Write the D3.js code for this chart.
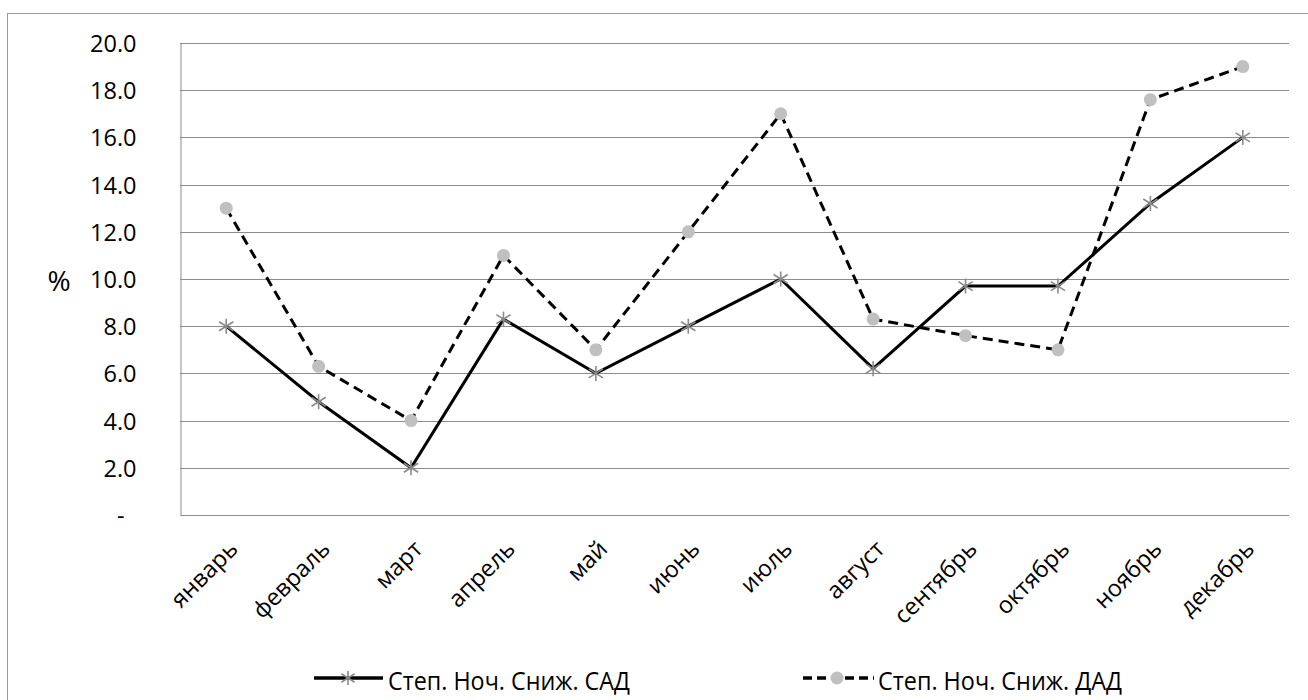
<!DOCTYPE html>
<html>
<head>
<meta charset="utf-8">
<script src="https://cdn.jsdelivr.net/npm/d3@7"></script>
<style>
  html, body { margin: 0; padding: 0; background: #fff; }
  svg { display: block; font-family: "Open Sans", "Noto Sans", sans-serif; }
</style>
</head>
<body>
<svg id="chart" width="1308" height="700"></svg>
<script>
// Monthly night-time dip (%) for systolic and diastolic pressure
const months = ["январь", "февраль", "март", "апрель", "май", "июнь",
                "июль", "август", "сентябрь", "октябрь", "ноябрь", "декабрь"];
const sadValues = [8.0, 4.8, 2.0, 8.3, 6.0, 8.0, 10.0, 6.2, 9.7, 9.7, 13.2, 16.0];
const dadValues = [13.0, 6.3, 4.0, 11.0, 7.0, 12.0, 17.0, 8.3, 7.6, 7.0, 17.6, 19.0];
const yTicks = [0, 2, 4, 6, 8, 10, 12, 14, 16, 18, 20];
const seriesNames = ["Степ. Ноч. Сниж. САД", "Степ. Ноч. Сниж. ДАД"];

const svg = d3.select("#chart");
const plot = { left: 180, right: 1289, top: 43, bottom: 515 };
const FONT = "'Open Sans', 'Noto Sans', sans-serif";

// outer frame (runs past the right and bottom edges)
svg.append("rect")
  .attr("x", 7.5).attr("y", 13.5)
  .attr("width", 1320).attr("height", 700)
  .attr("fill", "none").attr("stroke", "#9a9a9a").attr("stroke-width", 1);

const x = d3.scaleBand().domain(months).range([plot.left, plot.right]);
const y = d3.scaleLinear().domain([0, 20]).range([plot.bottom, plot.top]);
const cx = m => x(m) + x.bandwidth() / 2;

// horizontal gridlines
svg.append("g").selectAll("line").data(yTicks.filter(t => t > 0)).join("line")
  .attr("x1", plot.left).attr("x2", plot.right)
  .attr("y1", d => Math.round(y(d)) + 0.5).attr("y2", d => Math.round(y(d)) + 0.5)
  .attr("stroke", "#8c8c8c").attr("stroke-width", 1);

// y axis
const yAxis = d3.axisLeft(y).tickValues(yTicks).tickSize(0).tickPadding(0)
  .tickFormat(d => d === 0 ? "-" : d3.format(".1f")(d));
const yg = svg.append("g").attr("transform", `translate(${plot.left + 0.5},0)`).call(yAxis);
yg.select(".domain").attr("stroke", "#8c8c8c");
yg.selectAll("text")
  .attr("x", -44).attr("dy", "0.36em").attr("font-size", 23.5).attr("fill", "#000")
  .attr("font-family", FONT);
yg.selectAll(".tick").filter(d => d === 0).select("text").attr("x", -56);

// x axis baseline and rotated labels
const xAxis = d3.axisBottom(x).tickSize(0).tickPadding(0);
const xg = svg.append("g").attr("transform", `translate(0,${plot.bottom + 0.5})`).call(xAxis);
xg.select(".domain").attr("stroke", "#8c8c8c").attr("d", `M${plot.left + 0.5},0H${plot.right}`);
xg.selectAll(".tick text")
  .attr("font-size", 23.5).attr("fill", "#000")
  .attr("font-family", FONT)
  .attr("text-anchor", "end")
  .attr("dy", 0).attr("y", 0)
  .attr("transform", "translate(13,35) rotate(-45)");

// y axis title
svg.append("text").attr("x", 59).attr("y", 291)
  .attr("text-anchor", "middle").attr("font-size", 28).attr("font-family", FONT).text("%");

// series lines
const line = d3.line().x((d, i) => cx(months[i])).y(d => y(d));
svg.append("path").datum(dadValues)
  .attr("d", line).attr("fill", "none")
  .attr("stroke", "#000").attr("stroke-width", 3)
  .attr("stroke-dasharray", "10,6");
svg.append("path").datum(sadValues)
  .attr("d", line).attr("fill", "none")
  .attr("stroke", "#000").attr("stroke-width", 3);

// asterisk marker: vertical stroke plus a wide X
function star(g, px, py, r) {
  const s = g.append("g").attr("transform", `translate(${px},${py})`)
    .attr("stroke", "#8a8a8a").attr("stroke-width", 1.6);
  s.append("line").attr("x1", 0).attr("x2", 0).attr("y1", -r).attr("y2", r);
  s.append("line").attr("x1", -r * 0.95).attr("y1", -r * 0.6).attr("x2", r * 0.95).attr("y2", r * 0.6);
  s.append("line").attr("x1", -r * 0.95).attr("y1", r * 0.6).attr("x2", r * 0.95).attr("y2", -r * 0.6);
}

const markers = svg.append("g");
dadValues.forEach((v, i) => {
  markers.append("circle").attr("cx", cx(months[i])).attr("cy", y(v))
    .attr("r", 6.5).attr("fill", "#c0c0c0");
});
sadValues.forEach((v, i) => star(markers, cx(months[i]), y(v), 7.5));

// legend
const leg = svg.append("g");
const ly = 678;
leg.append("line").attr("x1", 314).attr("x2", 383).attr("y1", ly).attr("y2", ly)
  .attr("stroke", "#000").attr("stroke-width", 3.5);
star(leg, 348, ly, 7);
leg.append("text").attr("x", 388).attr("y", 690)
  .attr("font-size", 25).attr("font-family", FONT)
  .attr("textLength", 242).attr("lengthAdjust", "spacingAndGlyphs")
  .text(seriesNames[0]);

leg.append("line").attr("x1", 803).attr("x2", 874).attr("y1", ly).attr("y2", ly)
  .attr("stroke", "#000").attr("stroke-width", 3.5).attr("stroke-dasharray", "9,5");
leg.append("circle").attr("cx", 837).attr("cy", ly).attr("r", 6.5).attr("fill", "#c0c0c0");
leg.append("text").attr("x", 878).attr("y", 690)
  .attr("font-size", 25).attr("font-family", FONT)
  .attr("textLength", 244).attr("lengthAdjust", "spacingAndGlyphs")
  .text(seriesNames[1]);
</script>
</body>
</html>
